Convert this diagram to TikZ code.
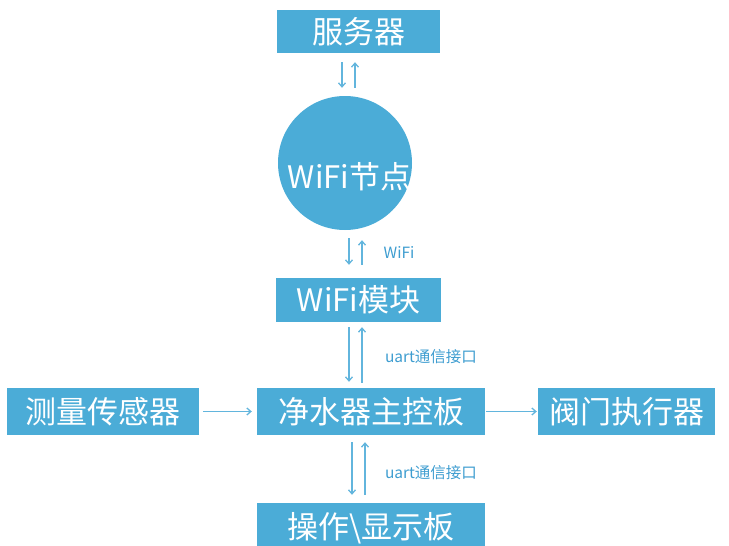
\documentclass[tikz,border=0pt]{standalone}
\usepackage{fontspec}
\newfontfamily\cjk{Noto Sans CJK SC}
\usetikzlibrary{arrows.meta,calc}
\definecolor{boxblue}{HTML}{4BACD7}
\definecolor{arrblue}{HTML}{62B5DD}
\definecolor{lblblue}{HTML}{3E9DD0}
\tikzset{
  blk/.style={fill=boxblue, draw=none, text=white, inner sep=0pt, font=\cjk\fontsize{31}{31}\selectfont},
  arr/.style={draw=arrblue, line width=1.3pt, -{Straight Barb[length=4pt,width=7pt]}},
  lbl/.style={text=lblblue, inner sep=0pt, font=\cjk\fontsize{15.5}{15.5}\selectfont}
}
\begin{document}
\begin{tikzpicture}[x=1pt,y=-1pt]
\path[use as bounding box] (0,0) rectangle (729,546);
\clip (0,0) rectangle (729,546);
% nodes
\node[blk, minimum width=163pt, minimum height=43pt] (server) at (358.5,31.5) {服务器};
\node[circle, fill=boxblue, draw=none, minimum size=134pt, inner sep=0pt] (wnode) at (345,163) {};
\node[blk, fill=none] (wtext) at ($(wnode.center)+(4.5,14)$) {WiFi节点};
\node[blk, minimum width=165pt, minimum height=44pt] (wifi) at (358.5,300) {WiFi模块};
\node[blk, minimum width=228pt, minimum height=47pt] (main) at (371,411.5) {净水器主控板};
\node[blk, minimum width=192pt, minimum height=47pt] (sensor) at (103,411.5) {测量传感器};
\node[blk, minimum width=177pt, minimum height=47pt] (valve) at (626.5,411.5) {阀门执行器};
\node[blk, minimum width=228pt, minimum height=50pt] (disp) at (371,528) {操作\textbackslash 显示板};
% server <-> wifi node
\draw[arr, shorten <=9pt, shorten >=8pt] ([xshift=-16.5pt]server.south) -- ([xshift=-3pt]wnode.north);
\draw[arr, shorten <=8pt, shorten >=9pt] ([xshift=10pt]wnode.north) -- ([xshift=-3.5pt]server.south);
% wifi node <-> wifi module
\draw[arr, shorten <=8pt, shorten >=13pt] ([xshift=4pt]wnode.south) -- ([xshift=-9.5pt]wifi.north);
\draw[arr, shorten <=13pt, shorten >=10pt] ([xshift=3.5pt]wifi.north) -- ([xshift=17pt]wnode.south);
\node[lbl] (l1) at (399,252) {WiFi};
% wifi module <-> main
\draw[arr, shorten <=5pt, shorten >=6pt] ([xshift=-9.5pt]wifi.south) -- ([xshift=-22pt]main.north);
\draw[arr, shorten <=5pt, shorten >=5pt] ([xshift=-9pt]main.north) -- ([xshift=3.5pt]wifi.south);
\node[lbl] (l2) at (431,357) {uart通信接口};
% main <-> display
\draw[arr, shorten <=7pt, shorten >=8pt] ([xshift=-19pt]main.south) -- ([xshift=-19pt]disp.north);
\draw[arr, shorten <=8pt, shorten >=7pt] ([xshift=-6pt]disp.north) -- ([xshift=-6pt]main.south);
\node[lbl] (l3) at (431,473) {uart通信接口};
% horizontal
\draw[arr, shorten <=4pt, shorten >=5pt] (sensor.east) -- (main.west);
\draw[arr, shorten <=1pt, shorten >=1pt] (main.east) -- (valve.west);
\end{tikzpicture}
\end{document}
